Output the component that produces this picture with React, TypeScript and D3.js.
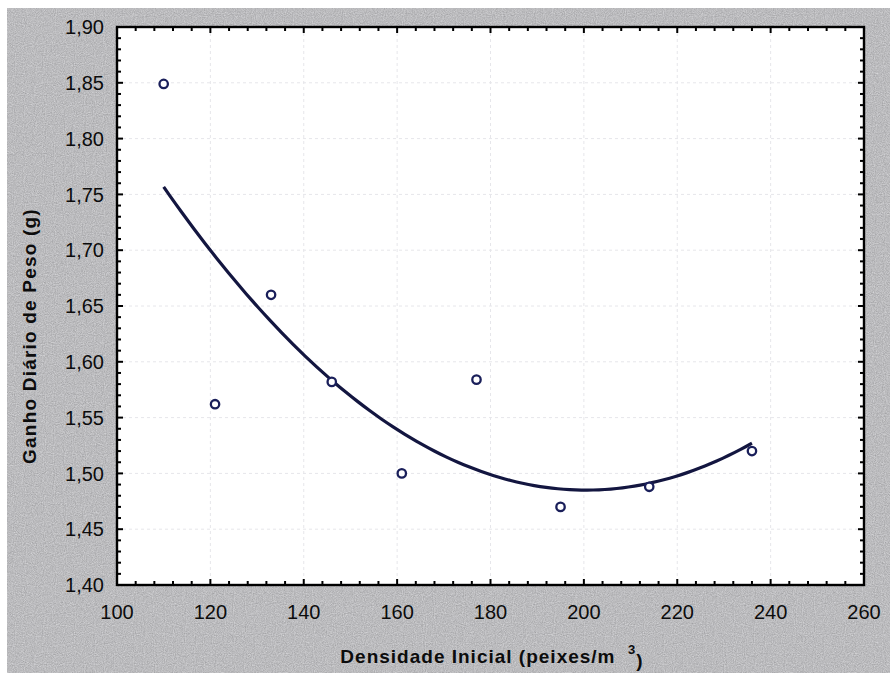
import React, { useEffect, useRef } from "react";
import * as d3 from "d3";

const densidade = [110, 121, 133, 146, 161, 177, 195, 214, 236];
const ganho = [1.849, 1.562, 1.66, 1.582, 1.5, 1.584, 1.47, 1.488, 1.52];
const xTicks = [100, 120, 140, 160, 180, 200, 220, 240, 260];
const yTicks = [1.4, 1.45, 1.5, 1.55, 1.6, 1.65, 1.7, 1.75, 1.8, 1.85, 1.9];

const W = 890;
const H = 673;
const M = { left: 117, right: 864, top: 27, bottom: 585 };

function quadFit(xs: number[], ys: number[]) {
  const mx = d3.mean(xs) as number;
  const u = xs.map((x) => x - mx);
  let S0 = u.length, S1 = 0, S2 = 0, S3 = 0, S4 = 0, T0 = 0, T1 = 0, T2 = 0;
  u.forEach((v, i) => {
    S1 += v; S2 += v * v; S3 += v ** 3; S4 += v ** 4;
    T0 += ys[i]; T1 += v * ys[i]; T2 += v * v * ys[i];
  });
  const A = [
    [S0, S1, S2, T0],
    [S1, S2, S3, T1],
    [S2, S3, S4, T2],
  ];
  for (let i = 0; i < 3; i++) {
    for (let j = i + 1; j < 3; j++) {
      const f = A[j][i] / A[i][i];
      for (let k = i; k < 4; k++) A[j][k] -= f * A[i][k];
    }
  }
  const c = [0, 0, 0];
  for (let i = 2; i >= 0; i--) {
    let s = A[i][3];
    for (let k = i + 1; k < 3; k++) s -= A[i][k] * c[k];
    c[i] = s / A[i][i];
  }
  return (x: number) => c[0] + c[1] * (x - mx) + c[2] * (x - mx) ** 2;
}

export default function App() {
  const ref = useRef<SVGSVGElement>(null);
  useEffect(() => {
    document.body.style.margin = "0";
    const svg = d3.select(ref.current);
    svg.selectAll("*").remove();

    const defs = svg.append("defs");
    const filt = defs.append("filter").attr("id", "noise").attr("x", 0).attr("y", 0)
      .attr("width", "100%").attr("height", "100%")
      .attr("color-interpolation-filters", "sRGB");
    filt.append("feTurbulence").attr("type", "fractalNoise").attr("baseFrequency", 0.9).attr("numOctaves", 2).attr("seed", 3).attr("result", "t");
    filt.append("feColorMatrix").attr("type", "saturate").attr("values", 0).attr("in", "t").attr("result", "g");
    filt.append("feComponentTransfer").attr("in", "g").attr("result", "g2")
      .call((s) => {
        s.append("feFuncR").attr("type", "linear").attr("slope", 0.32).attr("intercept", 0.575);
        s.append("feFuncG").attr("type", "linear").attr("slope", 0.32).attr("intercept", 0.575);
        s.append("feFuncB").attr("type", "linear").attr("slope", 0.32).attr("intercept", 0.585);
        s.append("feFuncA").attr("type", "linear").attr("slope", 0).attr("intercept", 1);
      });

    svg.append("rect").attr("width", W).attr("height", H).attr("fill", "#ffffff");
    svg.append("rect").attr("x", 7).attr("y", 8).attr("width", W - 7).attr("height", H - 8).attr("fill", "#bababb");
    svg.append("rect").attr("x", 7).attr("y", 8).attr("width", W - 7).attr("height", H - 8).attr("filter", "url(#noise)");

    const x = d3.scaleLinear().domain([100, 260]).range([M.left, M.right]);
    const y = d3.scaleLinear().domain([1.4, 1.9]).range([M.bottom, M.top]);

    svg.append("rect").attr("x", M.left).attr("y", M.top).attr("width", M.right - M.left).attr("height", M.bottom - M.top).attr("fill", "#ffffff");

    // grid
    const g = svg.append("g");
    xTicks.slice(1, -1).forEach((t) => {
      g.append("line").attr("x1", x(t)).attr("x2", x(t)).attr("y1", M.top).attr("y2", M.bottom)
        .attr("stroke", "#e6e6ea").attr("stroke-width", 1).attr("stroke-dasharray", "3,3");
    });
    yTicks.slice(1, -1).forEach((t) => {
      g.append("line").attr("y1", y(t)).attr("y2", y(t)).attr("x1", M.left).attr("x2", M.right)
        .attr("stroke", "#e6e6ea").attr("stroke-width", 1).attr("stroke-dasharray", "3,3");
    });

    // ticks (inward) on all four sides
    const tk = svg.append("g").attr("stroke", "#000").attr("stroke-width", 2);
    const xMinor = d3.range(100, 260.001, 4);
    xMinor.forEach((t) => {
      const major = Math.abs((t - 100) % 20) < 1e-6;
      const len = major ? 6 : 4;
      tk.append("line").attr("x1", x(t)).attr("x2", x(t)).attr("y1", M.bottom).attr("y2", M.bottom - len);
      tk.append("line").attr("x1", x(t)).attr("x2", x(t)).attr("y1", M.top).attr("y2", M.top + len);
    });
    const yMinor = d3.range(0, 51).map((i) => 1.4 + i * 0.01);
    yMinor.forEach((t, i) => {
      const major = i % 5 === 0;
      const len = major ? 6 : 4;
      tk.append("line").attr("y1", y(t)).attr("y2", y(t)).attr("x1", M.left).attr("x2", M.left + len);
      tk.append("line").attr("y1", y(t)).attr("y2", y(t)).attr("x1", M.right).attr("x2", M.right - len);
    });

    // border
    svg.append("rect").attr("x", M.left).attr("y", M.top).attr("width", M.right - M.left).attr("height", M.bottom - M.top)
      .attr("fill", "none").attr("stroke", "#000").attr("stroke-width", 2.4);

    // tick labels
    const font = "'Liberation Sans', Arial, sans-serif";
    svg.append("g").selectAll("text").data(yTicks).join("text")
      .attr("x", 104).attr("y", (d) => y(d)).attr("dy", "0.36em").attr("text-anchor", "end")
      .attr("font-family", font).attr("font-size", 20).attr("fill", "#0c0c0c")
      .text((d) => d3.format(".2f")(d).replace(".", ","));
    svg.append("g").selectAll("text").data(xTicks).join("text")
      .attr("x", (d) => x(d)).attr("y", 612).attr("dy", "0.36em").attr("text-anchor", "middle")
      .attr("font-family", font).attr("font-size", 20).attr("fill", "#0c0c0c")
      .text((d) => String(d));

    // axis titles
    const xt = svg.append("text").attr("x", 492).attr("y", 656).attr("dy", "0.36em").attr("text-anchor", "middle")
      .attr("font-family", font).attr("font-size", 19).attr("font-weight", "bold").attr("letter-spacing", 1)
      .attr("fill", "#0c0c0c");
    xt.append("tspan").text("Densidade Inicial (peixes/m\u00a0\u00a0");
    xt.append("tspan").attr("font-size", 13).attr("dy", "-0.7em").text("3");
    xt.append("tspan").attr("dy", "0.7em").text(")");

    svg.append("text").attr("transform", "translate(29,336) rotate(-90)").attr("dy", "0.36em").attr("text-anchor", "middle")
      .attr("font-family", font).attr("font-size", 19).attr("font-weight", "bold").attr("letter-spacing", 1.2)
      .attr("fill", "#0c0c0c")
      .text("Ganho Diário de Peso (g)");

    // fitted curve
    const f = quadFit(densidade, ganho);
    const xmin = d3.min(densidade) as number;
    const xmax = d3.max(densidade) as number;
    const xs = d3.range(xmin, xmax + 0.001, (xmax - xmin) / 100);
    const line = d3.line<number>().x((d) => x(d)).y((d) => y(f(d)));
    svg.append("path").attr("d", line(xs) as string).attr("fill", "none").attr("stroke", "#131640").attr("stroke-width", 3.2);

    // points
    svg.append("g").selectAll("circle").data(densidade).join("circle")
      .attr("cx", (d) => x(d)).attr("cy", (_, i) => y(ganho[i])).attr("r", 4.2)
      .attr("fill", "#fff").attr("stroke", "#1a1f5a").attr("stroke-width", 2.3);
  }, []);
  return <svg ref={ref} width={W} height={H} style={{ position: "absolute", left: 0, top: 0, display: "block" }} />;
}
